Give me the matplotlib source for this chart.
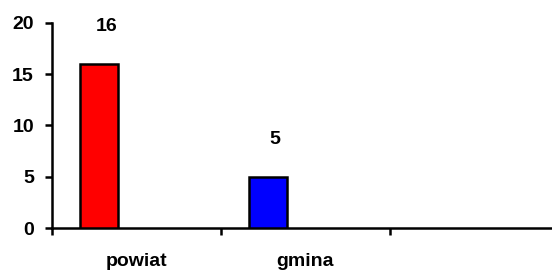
import matplotlib
matplotlib.use("Agg")
import matplotlib.pyplot as plt

# data
categories = ["powiat", "gmina", ""]
values = [16, 5, None]
colors = ["#ff0000", "#0000ff", "#ffffff"]
yticks = [0, 5, 10, 15, 20]

plt.rcParams['font.family'] = ['Liberation Sans', 'DejaVu Sans']
plt.rcParams['font.weight'] = 'bold'

fs = 14

fig = plt.figure(figsize=(5.52, 2.7), dpi=100)
ax = fig.add_axes([0.0942, 0.1544, 0.9058, 0.7616])

bar_w = 0.225
offset = -0.22
for i, (v, c) in enumerate(zip(values, colors)):
    if v is None:
        continue
    ax.bar(i + offset, v, width=bar_w, color=c, edgecolor='black', linewidth=1.8, zorder=3)
    ax.annotate(str(v), (i + offset, v), xytext=(5, 27), textcoords='offset points',
                ha='center', va='center', fontsize=fs, fontweight='bold')

ax.set_ylim(0, 20)
ax.set_xlim(-0.5, 2.46)
ax.set_yticks(yticks)
ax.set_yticklabels([str(t) for t in yticks], fontsize=fs, fontweight='bold')

# category labels at centres, ticks at boundaries
ax.set_xticks([0, 1, 2])
ax.set_xticklabels(categories, fontsize=fs, fontweight='bold')
ax.tick_params(axis='x', which='major', length=0, pad=18)
ax.set_xticks([-0.5, 0.5, 1.5], minor=True)
ax.tick_params(axis='x', which='minor', length=5, width=1.8, direction='out')
ax.tick_params(axis='y', length=5, width=1.8, direction='out', pad=8)

for s in ['top', 'right']:
    ax.spines[s].set_visible(False)
for s in ['left', 'bottom']:
    ax.spines[s].set_linewidth(1.8)

fig.savefig("out.png", dpi=100)
